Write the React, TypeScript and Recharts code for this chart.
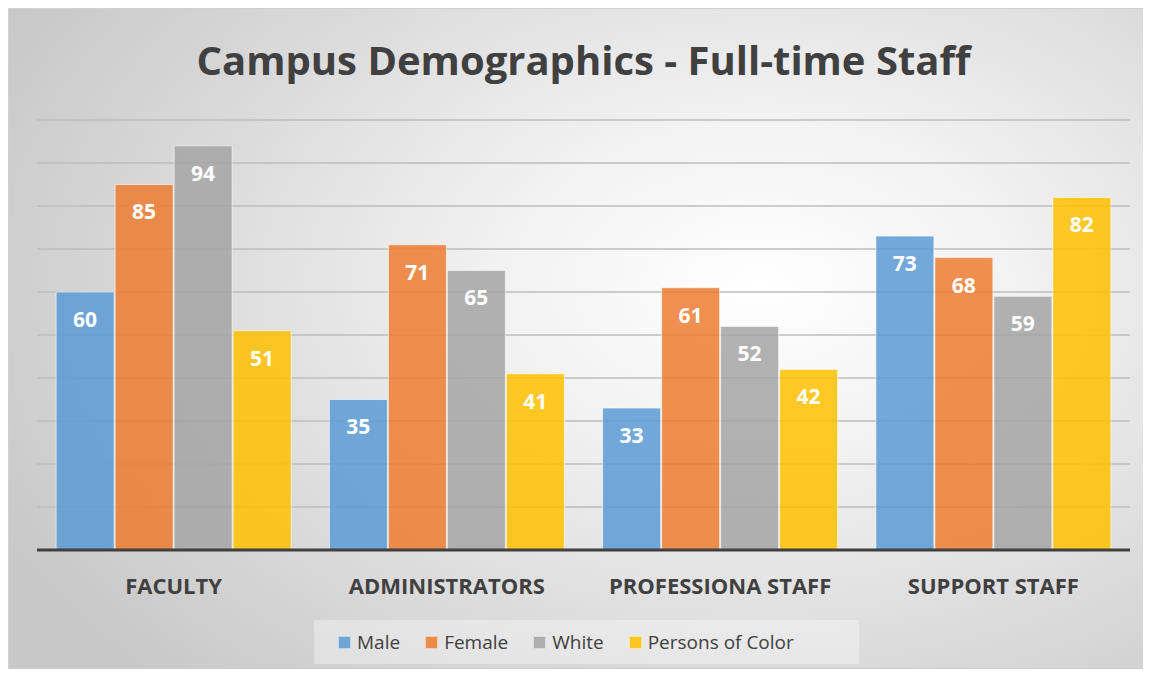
import { BarChart, Bar, XAxis, YAxis, CartesianGrid, LabelList } from "recharts";

const categories = ["FACULTY", "ADMINISTRATORS", "PROFESSIONA STAFF", "SUPPORT STAFF"];
const male = [60, 35, 33, 73];
const female = [85, 71, 61, 68];
const white = [94, 65, 52, 59];
const personsOfColor = [51, 41, 42, 82];
const yTicks = [0, 10, 20, 30, 40, 50, 60, 70, 80, 90, 100];

const series = [
  { key: "male", name: "Male", color: "#5b9bd5", values: male },
  { key: "female", name: "Female", color: "#ed7d31", values: female },
  { key: "white", name: "White", color: "#a5a5a5", values: white },
  { key: "poc", name: "Persons of Color", color: "#ffc000", values: personsOfColor },
];

const data = categories.map((cat, i) => {
  const row: Record<string, string | number> = { category: cat };
  series.forEach((s) => (row[s.key] = s.values[i]));
  return row;
});

const TEXT = "#404040";

export default function App() {
  return (
    <div
      style={{
        position: "relative",
        width: 1141,
        height: 661,
        fontFamily: "'Open Sans', sans-serif",
        background: "radial-gradient(ellipse 75% 85% at 66% 42%, #ffffff 0%, #f2f2f2 30%, #d9d9d9 70%, #c8c8c8 100%)",
        boxSizing: "border-box",
        border: "1px solid #d0d0d0",
      }}
    >
      <div
        style={{
          position: "absolute",
          top: 31,
          left: 5,
          width: "100%",
          textAlign: "center",
          fontSize: 40,
          lineHeight: 1,
          fontWeight: 700,
          color: TEXT,
        }}
      >
        Campus Demographics - Full-time Staff
      </div>

      <BarChart
        width={1139}
        height={659}
        data={data}
        margin={{ top: 111, right: 18, left: 28, bottom: 73 }}
        barGap={1}
        barCategoryGap="7%"
      >
        <CartesianGrid vertical={false} stroke="#bcbcbc" strokeWidth={1.3} />
        <YAxis hide domain={[0, 100]} ticks={yTicks} />
        <XAxis
          dataKey="category"
          height={45}
          axisLine={{ stroke: TEXT, strokeWidth: 3 }}
          tickLine={false}
          tick={{ fill: TEXT, fontSize: 22, fontWeight: 700 }}
          tickMargin={22}
        />
        {series.map((s) => (
          <Bar
            key={s.key}
            dataKey={s.key}
            name={s.name}
            fill={s.color}
            fillOpacity={0.85}
            stroke="#ffffff"
            strokeOpacity={0.6}
            strokeWidth={1}
            isAnimationActive={false}
          >
            <LabelList dataKey={s.key} position="insideTop" offset={20} fill="#ffffff" fontSize={21} fontWeight={700} />
          </Bar>
        ))}
      </BarChart>

      <div
        style={{
          position: "absolute",
          left: 305,
          top: 611,
          width: 545,
          height: 44,
          boxSizing: "border-box",
          paddingLeft: 24,
          background: "rgba(255,255,255,0.35)",
          display: "flex",
          alignItems: "center",
          gap: 25,
          fontSize: 19,
          color: TEXT,
        }}
      >
        {series.map((s) => (
          <div key={s.key} style={{ display: "flex", alignItems: "center", gap: 6 }}>
            <span
              style={{
                width: 11,
                height: 11,
                background: s.color,
                opacity: 0.85,
                border: "1px solid rgba(255,255,255,0.6)",
                display: "inline-block",
              }}
            />
            <span>{s.name}</span>
          </div>
        ))}
      </div>
    </div>
  );
}
